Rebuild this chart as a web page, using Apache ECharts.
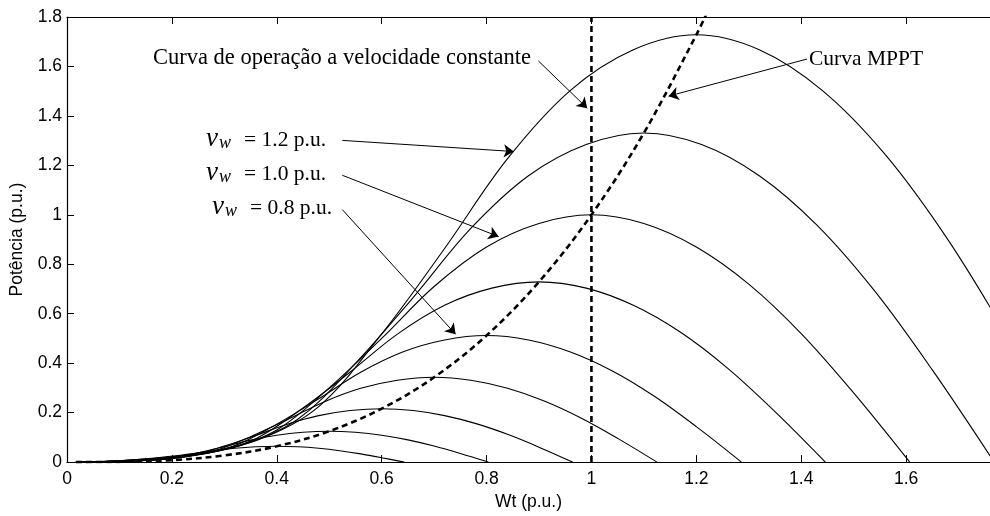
<!DOCTYPE html>
<html>
<head>
<meta charset="utf-8">
<script src="https://cdn.jsdelivr.net/npm/echarts@6/dist/echarts.min.js"></script>
<style>
html,body{margin:0;padding:0;background:#fff;}
#chart{width:990px;height:516px;}
</style>
</head>
<body>
<div id="chart"></div>
<script>
// Wind speeds (p.u.) of the plotted turbine power curves
const windSpeeds = ['0.4', '0.5', '0.6', '0.7', '0.8', '0.9', '1.0', '1.1', '1.2'];

// Power curves: [Wt (p.u.), Potência (p.u.)]
const curve04 = [[0.017,0],[0.04,0.0003],[0.08,0.0013],[0.12,0.0032],[0.16,0.0083],[0.2,0.0192],[0.24,0.032],[0.28,0.0454],[0.32,0.0557],[0.36,0.0618],[0.4,0.064],[0.44,0.0618],[0.48,0.0557],[0.52,0.0461],[0.56,0.0333],[0.6,0.0179],[0.643,0]];
const curve05 = [[0.017,0],[0.05,0.0006],[0.1,0.0025],[0.15,0.0063],[0.2,0.0163],[0.25,0.0375],[0.3,0.0625],[0.35,0.0888],[0.4,0.1088],[0.45,0.1206],[0.5,0.125],[0.55,0.1206],[0.6,0.1088],[0.65,0.09],[0.7,0.065],[0.75,0.035],[0.8035,0]];
const curve06 = [[0.017,0],[0.06,0.0011],[0.12,0.0043],[0.18,0.0108],[0.24,0.0281],[0.3,0.0648],[0.36,0.108],[0.42,0.1534],[0.48,0.1879],[0.54,0.2084],[0.6,0.216],[0.66,0.2084],[0.72,0.1879],[0.78,0.1555],[0.84,0.1123],[0.9,0.0605],[0.964,0]];
const curve07 = [[0.017,0],[0.07,0.0017],[0.14,0.0069],[0.21,0.0172],[0.28,0.0446],[0.35,0.1029],[0.42,0.1715],[0.49,0.2435],[0.56,0.2984],[0.63,0.331],[0.7,0.343],[0.77,0.331],[0.84,0.2984],[0.91,0.247],[0.98,0.1784],[1.05,0.096],[1.125,0]];
const curve08 = [[0.017,0],[0.08,0.0026],[0.16,0.0102],[0.24,0.0256],[0.32,0.0666],[0.4,0.1536],[0.48,0.256],[0.56,0.3635],[0.64,0.4454],[0.72,0.4941],[0.8,0.512],[0.88,0.4941],[0.96,0.4454],[1.04,0.3686],[1.12,0.2662],[1.2,0.1434],[1.286,0]];
const curve09 = [[0.017,0],[0.09,0.0036],[0.18,0.0146],[0.27,0.0365],[0.36,0.0948],[0.45,0.2187],[0.54,0.3645],[0.63,0.5176],[0.72,0.6342],[0.81,0.7035],[0.9,0.729],[0.99,0.7035],[1.08,0.6342],[1.17,0.5249],[1.26,0.3791],[1.35,0.2041],[1.446,0]];
const curve10 = [[0.017,0],[0.1,0.005],[0.2,0.02],[0.3,0.05],[0.4,0.13],[0.5,0.3],[0.6,0.5],[0.7,0.71],[0.8,0.87],[0.9,0.965],[1.0,1.0],[1.1,0.965],[1.2,0.87],[1.3,0.72],[1.4,0.52],[1.5,0.28],[1.607,0]];
const curve11 = [[0.017,0],[0.11,0.0067],[0.22,0.0266],[0.33,0.0666],[0.44,0.173],[0.55,0.3993],[0.66,0.6655],[0.77,0.945],[0.88,1.158],[0.99,1.2844],[1.1,1.331],[1.21,1.2844],[1.32,1.158],[1.43,0.9583],[1.54,0.6921],[1.65,0.3727],[1.768,0]];
const curve12 = [[0.017,0],[0.12,0.0086],[0.24,0.0346],[0.36,0.0864],[0.48,0.2246],[0.6,0.5184],[0.72,0.864],[0.84,1.2269],[0.96,1.5034],[1.08,1.6675],[1.2,1.728],[1.32,1.6675],[1.44,1.5034],[1.56,1.2442],[1.68,0.8986],[1.8,0.4838],[1.928,0]];

// MPPT curve (dashed) through the curve maxima
const mpptCurve = [[0.017,0],[0.1,0.001],[0.2,0.008],[0.3,0.027],[0.4,0.064],[0.5,0.125],[0.6,0.216],[0.7,0.343],[0.8,0.512],[0.9,0.729],[1.0,1.0],[1.1,1.331],[1.2,1.728],[1.23,1.861]];

// Constant-speed operating line (dashed vertical)
const constSpeedLine = [[1,0],[1,1.8]];

// Axis ticks
const xTicks = { min: 0, max: 1.76, interval: 0.2 };
const yTicks = { min: 0, max: 1.8, interval: 0.2 };

// Axis titles and annotations
const xTitle = 'Wt (p.u.)';
const yTitle = 'Potência (p.u.)';
const noteConst = 'Curva de operação a velocidade constante';
const noteMppt = 'Curva MPPT';
const vwLabels = ['= 1.2 p.u.', '= 1.0 p.u.', '= 0.8 p.u.'];

const curves = [curve04, curve05, curve06, curve07, curve08, curve09, curve10, curve11, curve12];

const chart = echarts.init(document.getElementById('chart'), null, {renderer: 'canvas'});

const series = curves.map((c, i) => ({
  name: 'vw ' + windSpeeds[i],
  type: 'line',
  data: c,
  smooth: 0.35,
  showSymbol: false,
  symbol: 'none',
  lineStyle: { color: '#000', width: 1.1 },
  clip: true,
  z: 2
}));

series.push({
  name: 'MPPT',
  type: 'line',
  data: mpptCurve,
  smooth: 0.35,
  symbol: 'none',
  lineStyle: { color: '#000', width: 2.6, type: [6, 4] },
  clip: true,
  z: 3
});

const arrowStyle = { color: '#000', width: 1, type: 'solid' };
series.push({
  name: 'Const',
  type: 'line',
  data: constSpeedLine,
  symbol: 'none',
  lineStyle: { color: '#000', width: 2.6, type: [6, 4] },
  clip: true,
  z: 3,
  markLine: {
    silent: true,
    animation: false,
    symbol: ['none', 'arrow'],
    symbolSize: 10,
    label: { show: false },
    lineStyle: arrowStyle,
    itemStyle: { color: '#000' },
    emphasis: { disabled: true },
    data: [
      [{ coord: [0.899, 1.622] }, { coord: [0.992, 1.431] }],
      [{ coord: [1.411, 1.630] }, { coord: [1.147, 1.480] }],
      [{ coord: [0.525, 1.301] }, { coord: [0.852, 1.256] }],
      [{ coord: [0.525, 1.160] }, { coord: [0.823, 0.912] }],
      [{ coord: [0.525, 1.021] }, { coord: [0.741, 0.517] }]
    ]
  }
});

const serif = '"Liberation Serif", "DejaVu Serif", serif';
const sans = '"Liberation Sans", Arial, Helvetica, sans-serif';

const vwGraphics = [];
const rowBase = [140, 174, 208];
const rowShift = [0, 0, 6];
vwLabels.forEach((t, i) => {
  vwGraphics.push({ type: 'text', left: 206 + rowShift[i], top: rowBase[i] - 15, silent: true,
    style: { text: 'v', font: 'italic 27px ' + serif, fill: '#000' } });
  vwGraphics.push({ type: 'text', left: 219 + rowShift[i], top: rowBase[i] - 6, silent: true,
    style: { text: 'w', font: 'italic 18px ' + serif, fill: '#000' } });
  vwGraphics.push({ type: 'text', left: 244 + rowShift[i], top: rowBase[i] - 11, silent: true,
    style: { text: t, font: '21.5px ' + serif, fill: '#000' } });
});

chart.setOption({
  animation: false,
  backgroundColor: '#fff',
  grid: { left: 66, right: 0, top: 17, bottom: 46, containLabel: false },
  xAxis: [
    {
      type: 'value', position: 'bottom',
      min: xTicks.min, max: xTicks.max, interval: xTicks.interval,
      name: xTitle, nameLocation: 'middle', nameGap: 22,
      nameTextStyle: { fontFamily: sans, fontSize: 17.5, color: '#000' },
      axisLine: { show: true, onZero: false, lineStyle: { color: '#000', width: 1.2 } },
      axisTick: { show: true, inside: true, length: 7, lineStyle: { color: '#000', width: 1 } },
      axisLabel: { showMaxLabel: false, margin: 8, fontFamily: sans, fontSize: 17.5, color: '#000' },
      splitLine: { show: false }
    },
    {
      type: 'value', position: 'top',
      min: xTicks.min, max: xTicks.max, interval: xTicks.interval,
      axisLine: { show: true, onZero: false, lineStyle: { color: '#000', width: 1.2 } },
      axisTick: { show: true, inside: true, length: 7, lineStyle: { color: '#000', width: 1 } },
      axisLabel: { show: false },
      splitLine: { show: false }
    }
  ],
  yAxis: {
    type: 'value',
    min: yTicks.min, max: yTicks.max, interval: yTicks.interval,
    name: yTitle, nameLocation: 'middle', nameGap: 41, nameRotate: 90,
    nameTextStyle: { fontFamily: sans, fontSize: 17.5, color: '#000' },
    axisLine: { show: true, onZero: false, lineStyle: { color: '#000', width: 1.2 } },
    axisTick: { show: true, inside: true, length: 7, lineStyle: { color: '#000', width: 1 } },
    axisLabel: { margin: 5, fontFamily: sans, fontSize: 17.5, color: '#000' },
    splitLine: { show: false }
  },
  graphic: [
    { type: 'text', left: 153, top: 47, silent: true,
      style: { text: noteConst, font: '22.5px ' + serif, fill: '#000' } },
    { type: 'text', left: 809, top: 48, silent: true,
      style: { text: noteMppt, font: '21.5px ' + serif, fill: '#000' } }
  ].concat(vwGraphics),
  series: series
});
</script>
</body>
</html>
